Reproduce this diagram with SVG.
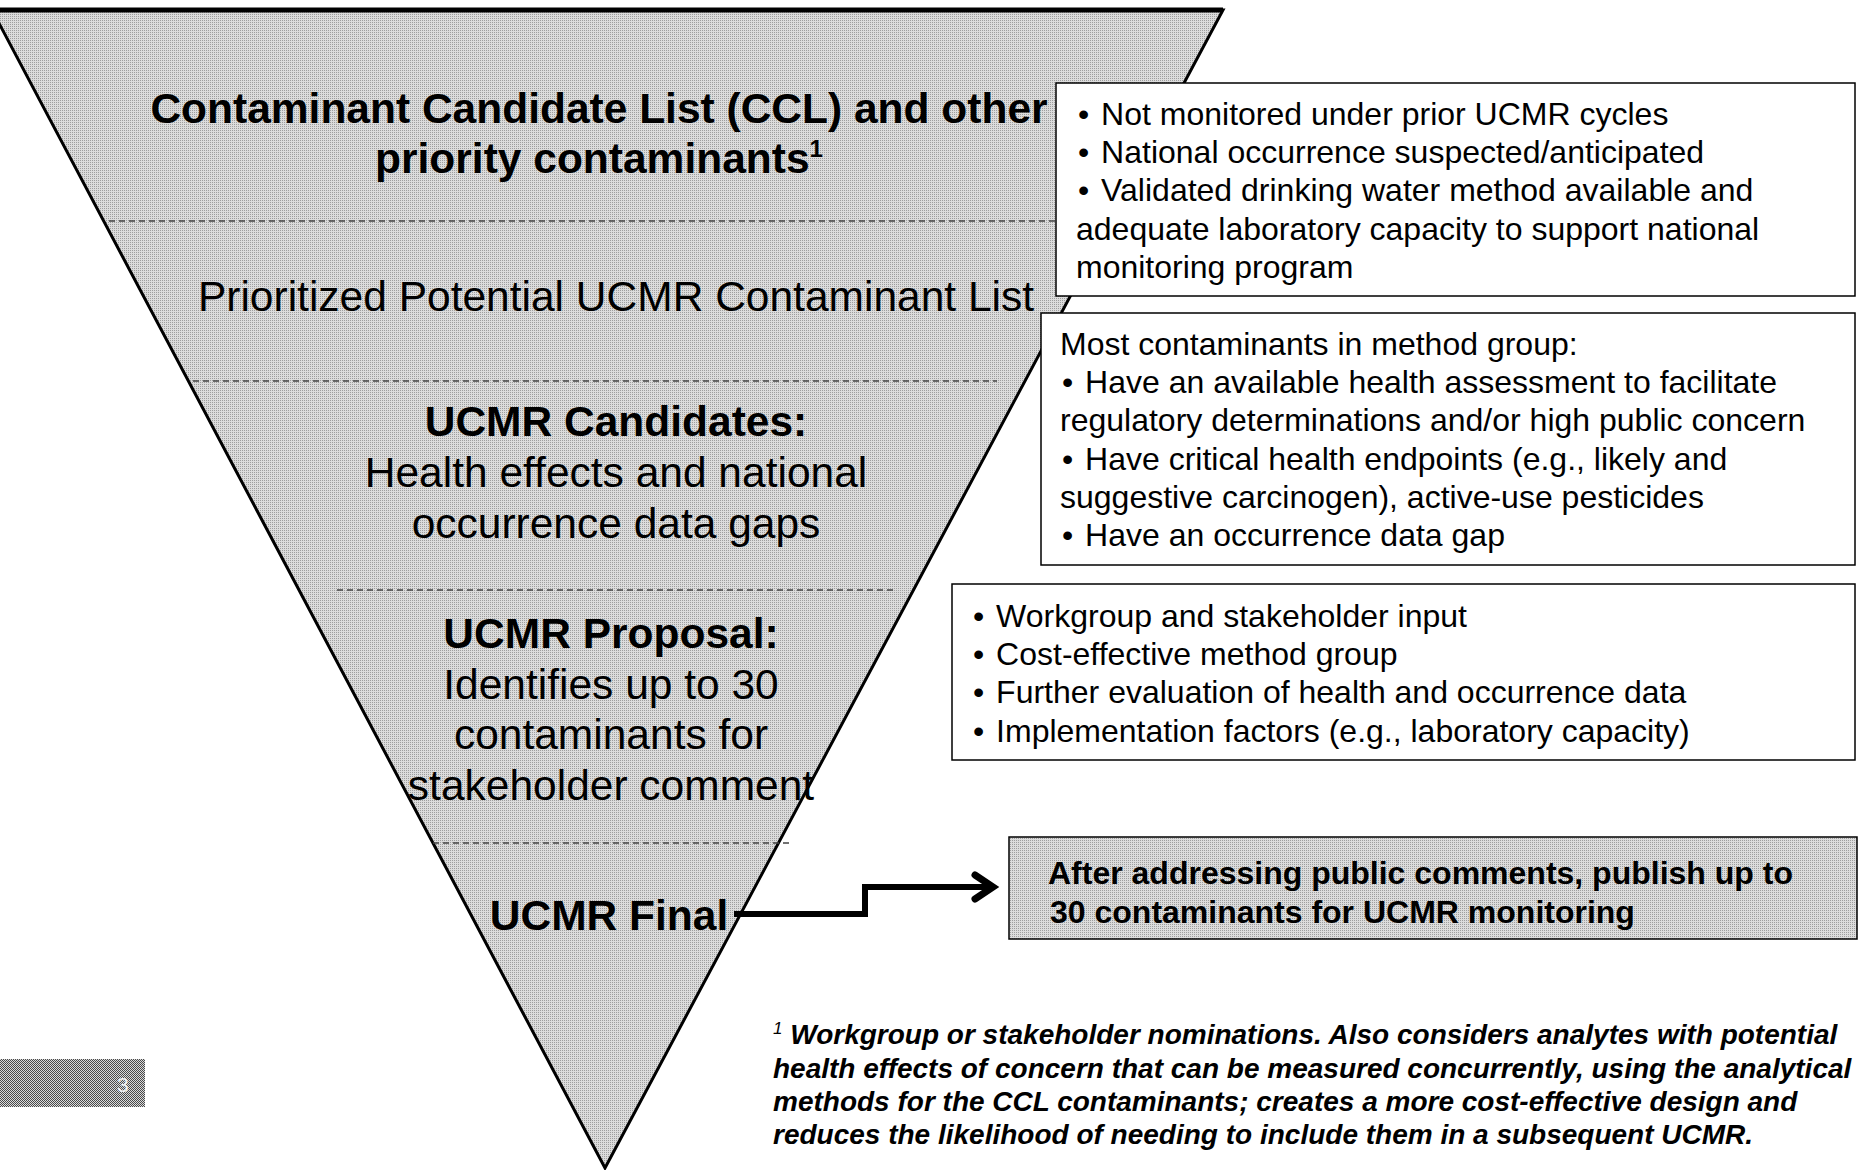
<svg xmlns="http://www.w3.org/2000/svg" width="1861" height="1170" viewBox="0 0 1861 1170">
<defs>
<pattern id="dots" width="2" height="2" patternUnits="userSpaceOnUse">
<rect width="2" height="2" fill="#dcdcdc"/>
<rect width="1" height="1" fill="#9e9e9e"/>
</pattern>
<pattern id="darkdots" width="2" height="2" patternUnits="userSpaceOnUse">
<rect width="2" height="2" fill="#dadada"/>
<rect width="1" height="1" fill="#4a4a4a"/>
<rect x="1" y="1" width="1" height="1" fill="#4a4a4a"/>
</pattern>
<style>
.bold{font-family:"Liberation Sans",Arial,sans-serif;font-weight:bold;fill:#000}
.reg{font-family:"Liberation Sans",Arial,sans-serif;fill:#000}
.big{font-size:42.5px}
.mid{font-size:32px}
.foot{font-family:"Liberation Sans",Arial,sans-serif;font-weight:bold;font-style:italic;font-size:28px;fill:#000}
.dash{stroke:#444;stroke-width:1.5;stroke-dasharray:6 4;fill:none}
.box{fill:#fff;stroke:#000;stroke-width:1.5}
.gbox{fill:url(#dots);stroke:#000;stroke-width:1.5}
.conn{fill:none;stroke:#000;stroke-width:6;stroke-linejoin:miter}
</style>
</defs>

<g id="funnel">
<polygon points="-8,10 1223,10 605,1168" fill="url(#dots)" stroke="#000" stroke-width="3" stroke-linejoin="miter"/>
<line x1="-8" y1="10" x2="1223" y2="10" stroke="#000" stroke-width="5"/>
<line class="dash" x1="109" y1="221" x2="1110" y2="221"/>
<line class="dash" x1="193" y1="381" x2="997" y2="381"/>
<line class="dash" x1="337" y1="590" x2="896" y2="590"/>
<line class="dash" x1="433" y1="843" x2="789" y2="843"/>
</g>

<g id="level-ccl">
<text class="bold big" x="599" y="123" text-anchor="middle">Contaminant Candidate List (CCL) and other</text>
<text class="bold big" x="599" y="173" text-anchor="middle">priority contaminants<tspan font-size="24" dy="-16">1</tspan></text>
</g>

<g id="level-prioritized">
<text class="reg big" x="616" y="311" text-anchor="middle">Prioritized Potential UCMR Contaminant List</text>
</g>

<g id="level-candidates">
<text class="bold big" x="616" y="436" text-anchor="middle">UCMR Candidates:</text>
<text class="reg big" x="616" y="487" text-anchor="middle">Health effects and national</text>
<text class="reg big" x="616" y="538" text-anchor="middle">occurrence data gaps</text>
</g>

<g id="level-proposal">
<text class="bold big" x="611" y="648" text-anchor="middle">UCMR Proposal:</text>
<text class="reg big" x="611" y="699" text-anchor="middle">Identifies up to 30</text>
<text class="reg big" x="611" y="749" text-anchor="middle">contaminants for</text>
<text class="reg big" x="611" y="800" text-anchor="middle">stakeholder comment</text>
</g>

<g id="level-final">
<text class="bold big" x="609" y="930" text-anchor="middle">UCMR Final</text>
</g>

<g id="box-criteria">
<rect class="box" x="1056" y="83" width="799" height="213"/>
<text class="reg mid" x="1078" y="125">•<tspan dx="3"> Not monitored under prior UCMR cycles</tspan></text>
<text class="reg mid" x="1078" y="163">•<tspan dx="3"> National occurrence suspected/anticipated</tspan></text>
<text class="reg mid" x="1078" y="201">•<tspan dx="3"> Validated drinking water method available and</tspan></text>
<text class="reg mid" x="1076" y="240">adequate laboratory capacity to support national</text>
<text class="reg mid" x="1076" y="278">monitoring program</text>
</g>

<g id="box-method-group">
<rect class="box" x="1041" y="313" width="814" height="252"/>
<text class="reg mid" x="1060" y="355">Most contaminants in method group:</text>
<text class="reg mid" x="1062" y="393">•<tspan dx="3"> Have an available health assessment to facilitate</tspan></text>
<text class="reg mid" x="1060" y="431">regulatory determinations and/or high public concern</text>
<text class="reg mid" x="1062" y="470">•<tspan dx="3"> Have critical health endpoints (e.g., likely and</tspan></text>
<text class="reg mid" x="1060" y="508">suggestive carcinogen), active-use pesticides</text>
<text class="reg mid" x="1062" y="546">•<tspan dx="3"> Have an occurrence data gap</tspan></text>
</g>

<g id="box-proposal-factors">
<rect class="box" x="952" y="584" width="903" height="176"/>
<text class="reg mid" x="973" y="627">•<tspan dx="3"> Workgroup and stakeholder input</tspan></text>
<text class="reg mid" x="973" y="665">•<tspan dx="3"> Cost-effective method group</tspan></text>
<text class="reg mid" x="973" y="703">•<tspan dx="3"> Further evaluation of health and occurrence data</tspan></text>
<text class="reg mid" x="973" y="742">•<tspan dx="3"> Implementation factors (e.g., laboratory capacity)</tspan></text>
</g>

<g id="box-final">
<rect class="gbox" x="1009" y="837" width="848" height="102"/>
<text class="bold mid" x="1048" y="884">After addressing public comments, publish up to</text>
<text class="bold mid" x="1050" y="923">30 contaminants for UCMR monitoring</text>
</g>

<g id="connectors">
<path class="conn" d="M734,914 H865 V887 H990"/>
<polyline points="975,875 993,887 975,899" fill="none" stroke="#000" stroke-width="7" stroke-linecap="round" stroke-linejoin="miter"/>
</g>

<g id="footnote">
<text class="foot" x="773" y="1044"><tspan font-size="17" font-weight="normal" dy="-10">1</tspan><tspan dy="10"> Workgroup or stakeholder nominations. Also considers analytes with potential</tspan></text>
<text class="foot" x="773" y="1078">health effects of concern that can be measured concurrently, using the analytical</text>
<text class="foot" x="773" y="1111">methods for the CCL contaminants; creates a more cost-effective design and</text>
<text class="foot" x="773" y="1144">reduces the likelihood of needing to include them in a subsequent UCMR.</text>
</g>

<g id="page-number">
<rect x="0" y="1059" width="145" height="48" fill="url(#darkdots)"/>
<text x="117" y="1092" font-family="Liberation Sans, Arial, sans-serif" font-size="21" fill="#f0f0f0">3</text>
</g>
</svg>
